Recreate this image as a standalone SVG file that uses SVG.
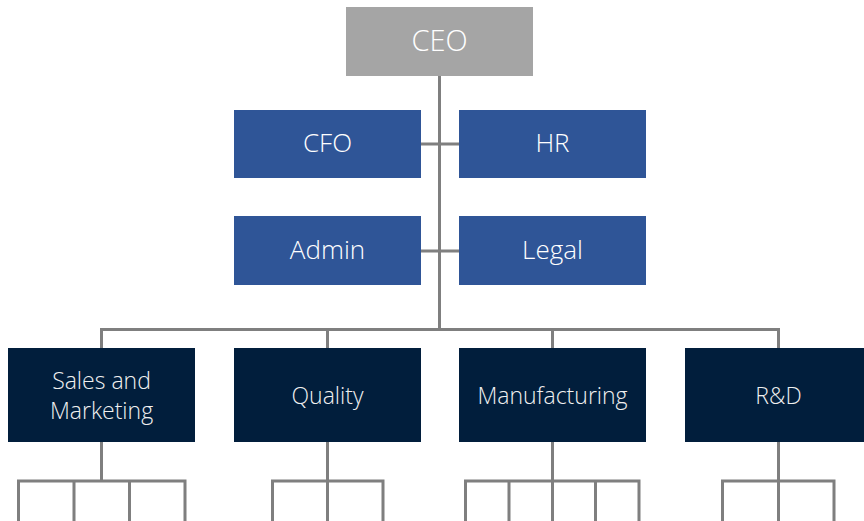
<svg xmlns="http://www.w3.org/2000/svg" width="864" height="521" viewBox="0 0 864 521">
<style>
.ln{fill:none;stroke:#7F7F7F;stroke-width:3;stroke-linejoin:miter;stroke-linecap:butt}
.ceo{fill:#A5A5A5}
.mid{fill:#2F5597}
.dept{fill:#011E3C}
.t{font-family:"Open Sans","Liberation Sans",sans-serif;font-weight:300;fill:#FFFFFF;text-anchor:middle;dominant-baseline:central}
.t1{font-size:29px}
.t2{font-size:26px}
.t3{font-size:23px;fill:#F0F0F0}
</style>
<rect width="864" height="521" fill="#FFFFFF"/>
<g id="connectors">
<path class="ln" d="M439.5,76 V329.5"/>
<path class="ln" d="M421,144 H459"/>
<path class="ln" d="M421,251 H459"/>
<path class="ln" d="M101.5,348 V329.5 H778.5 V348"/>
<path class="ln" d="M327.5,329.5 V348"/>
<path class="ln" d="M552.5,329.5 V348"/>
<path class="ln" d="M101.5,442 V481"/>
<path class="ln" d="M18.5,521 V481 H185 V521"/>
<path class="ln" d="M74,481 V521 M129.5,481 V521"/>
<path class="ln" d="M327.5,442 V481"/>
<path class="ln" d="M272.5,521 V481 H383 V521"/>
<path class="ln" d="M327.5,481 V521"/>
<path class="ln" d="M552.5,442 V481"/>
<path class="ln" d="M465.5,521 V481 H639 V521"/>
<path class="ln" d="M509,481 V521 M552.5,481 V521 M595.5,481 V521"/>
<path class="ln" d="M778.5,442 V481"/>
<path class="ln" d="M722.5,521 V481 H834 V521"/>
<path class="ln" d="M778.5,481 V521"/>
</g>
<g id="ceo"><rect class="ceo" x="346" y="7" width="187" height="69"/><text class="t t1" x="439.5" y="39.5">CEO</text></g>
<g id="cfo"><rect class="mid" x="234" y="110" width="187" height="68"/><text class="t t2" x="327.5" y="142">CFO</text></g>
<g id="hr"><rect class="mid" x="459" y="110" width="187" height="68"/><text class="t t2" x="552.5" y="142">HR</text></g>
<g id="admin"><rect class="mid" x="234" y="216" width="187" height="69"/><text class="t t2" x="327.5" y="248.5">Admin</text></g>
<g id="legal"><rect class="mid" x="459" y="216" width="187" height="69"/><text class="t t2" x="552.5" y="248.5">Legal</text></g>
<g id="sales"><rect class="dept" x="8" y="348" width="187" height="94"/><text class="t t3" x="101.5" y="380">Sales and</text><text class="t t3" x="101.5" y="410">Marketing</text></g>
<g id="quality"><rect class="dept" x="234" y="348" width="187" height="94"/><text class="t t3" x="327.5" y="395">Quality</text></g>
<g id="manufacturing"><rect class="dept" x="459" y="348" width="187" height="94"/><text class="t t3" x="552.5" y="395">Manufacturing</text></g>
<g id="rnd"><rect class="dept" x="685" y="348" width="187" height="94"/><text class="t t3" x="778.5" y="395">R&amp;D</text></g>
</svg>
